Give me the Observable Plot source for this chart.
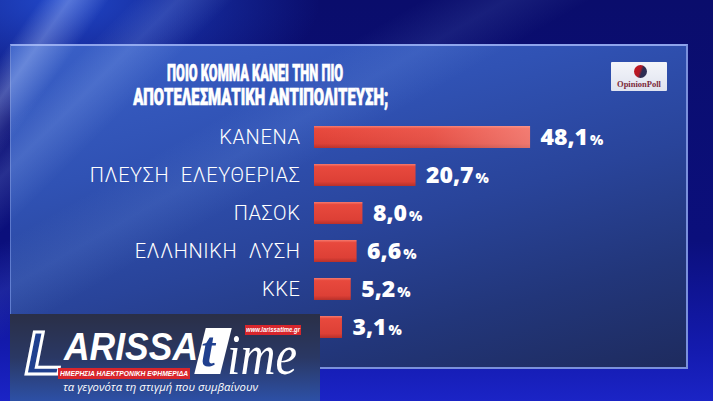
<!DOCTYPE html>
<html><head><meta charset="utf-8">
<script src="https://cdn.jsdelivr.net/npm/d3@7"></script>
<script src="https://cdn.jsdelivr.net/npm/@observablehq/plot@0.6"></script>
<style>
html,body{margin:0;padding:0;background:#0a0d70;}
#stage{position:relative;width:713px;height:401px;overflow:hidden;
  background:
    radial-gradient(ellipse 260px 120px at 60px 0px, rgba(40,90,230,0.75), rgba(40,90,230,0) 100%),
    linear-gradient(180deg,#0a0d6c 0%,#0b0f7c 60%,#141bb0 88%,#1b24c6 100%);}
#panel{position:absolute;left:10px;top:44px;width:675px;height:321px;
  border-top:2px solid #8ea4ec;border-right:2px solid #7a90dc;border-bottom:2px solid #7a90dc;border-left:1px solid #5c78cc;
  background:linear-gradient(165deg,#3a60c8 0%,#3052b4 30%,#29449a 55%,#22367a 78%,#1e2b5e 100%);}
#rays{position:absolute;left:0;top:0;width:713px;height:401px;pointer-events:none;
  background:
   linear-gradient(125deg, rgba(255,255,255,0) 4%, rgba(190,210,255,0.35) 7%, rgba(255,255,255,0) 11%),
   linear-gradient(135deg, rgba(255,255,255,0) 12%, rgba(170,200,255,0.18) 16%, rgba(255,255,255,0) 21%),
   linear-gradient(150deg, rgba(255,255,255,0) 30%, rgba(150,190,255,0.10) 36%, rgba(255,255,255,0) 42%);}
#title{position:absolute;left:55px;top:61px;width:400px;text-align:center;color:#fff;
  font-family:Roboto,"Liberation Sans",sans-serif;font-weight:900;font-size:24px;line-height:24px;-webkit-text-stroke:0.7px #fff;}
#title span{display:inline-block;white-space:nowrap;transform-origin:50% 50%;}
#op{position:absolute;left:611px;top:62px;width:56px;height:29px;background:linear-gradient(180deg,#f4f5fa,#dfe3ef);border-radius:1px;}
#op .dot{position:absolute;left:23px;top:3px;width:13px;height:13px;border-radius:50%;
  background:linear-gradient(110deg,#c8161e 0%,#b01a28 45%,#2c2c52 60%,#303058 100%);}
#op .t{position:absolute;left:0;top:17px;width:56px;text-align:center;font-family:"Liberation Serif",serif;font-weight:bold;font-size:8.5px;color:#7c2a3a;}
#chart{position:absolute;left:0;top:0;}
#logo{position:absolute;left:10px;top:314px;width:310px;height:87px;overflow:hidden;
  background:linear-gradient(180deg,#2a2f47 0%,#2a3864 50%,#2d50a6 100%);}
#logo div{position:absolute;white-space:nowrap;transform-origin:0 50%;}
#L{left:15px;top:8px;font-family:"Liberation Sans",sans-serif;font-weight:bold;font-style:italic;font-size:62px;line-height:62px;color:#20408f;-webkit-text-stroke:3px #fff;}
#arissa{left:54px;top:13px;font-family:"Liberation Sans",sans-serif;font-weight:bold;font-style:italic;font-size:39px;line-height:40px;color:#fff;}
#tbox{left:190px;top:14px;width:26px;height:46px;background:#fff;transform:skewX(-14deg);}
#tch{left:191px;top:10px;font-family:"Liberation Serif",serif;font-style:italic;font-weight:bold;font-size:50px;line-height:50px;color:#20408f;}
#ime{left:217px;top:16px;font-family:"Liberation Serif",serif;font-style:italic;font-size:56px;line-height:50px;color:#fff;}
#url{left:235px;top:11px;width:56px;height:10px;background:#d8262c;}
#urlt{left:236px;top:11px;color:#fff;font-family:"Liberation Sans",sans-serif;font-weight:bold;font-style:italic;font-size:7px;line-height:10px;}
#banner{left:48px;top:54px;width:132px;height:11px;background:#d8262c;}
#bant{left:50px;top:54px;color:#fff;font-family:"Liberation Sans",sans-serif;font-weight:bold;font-style:italic;font-size:7.5px;line-height:11px;}
#tag{left:53px;top:66px;color:#fff;font-family:"Open Sans",sans-serif;font-style:italic;font-size:11.2px;line-height:14px;}
</style></head><body>
<div id="stage">
  <div id="panel"></div>
  <div id="rays"></div>
  <div id="title"><span id="t1">ΠΟΙΟ ΚΟΜΜΑ ΚΑΝΕΙ ΤΗΝ ΠΙΟ</span><br><span id="t2">ΑΠΟΤΕΛΕΣΜΑΤΙΚΗ ΑΝΤΙΠΟΛΙΤΕΥΣΗ;</span></div>
  <div id="op"><div class="dot"></div><div class="t">OpinionPoll</div></div>
  <div id="chart"></div>
  <div id="logo">
    <div id="L">L</div>
    <div id="arissa">ARISSA</div>
    <div id="tbox"></div>
    <div id="tch">t</div>
    <div id="ime">ime</div>
    <div id="url"></div>
    <div id="urlt">www.larissatime.gr</div>
    <div id="banner"></div>
    <div id="bant">ΗΜΕΡΗΣΙΑ ΗΛΕΚΤΡΟΝΙΚΗ ΕΦΗΜΕΡΙΔΑ</div>
    <div id="tag">τα γεγονότα τη στιγμή που συμβαίνουν</div>
  </div>
</div>
<script>
const parties = ["ΚΑΝΕΝΑ", "ΠΛΕΥΣΗ ΕΛΕΥΘΕΡΙΑΣ", "ΠΑΣΟΚ", "ΕΛΛΗΝΙΚΗ ΛΥΣΗ", "ΚΚΕ", "ΝΙΚΗ"];
const values = [48.1, 20.7, 8.0, 6.6, 5.2, 3.1];
const data = parties.map((p, i) => ({party: p, value: values[i]}));
const fmt = v => v.toFixed(1).replace(".", ",");

const plot = Plot.plot({
  width: 713,
  height: 401,
  marginLeft: 314,
  marginRight: 0,
  marginTop: 107.5,
  marginBottom: 45,
  style: {background: "transparent", color: "#fff", overflow: "visible"},
  x: {domain: [0, 100], range: [329, 747], axis: null},
  y: {domain: parties, padding: 0.42, axis: null},
  marks: [
    Plot.axisY({anchor: "left", label: null, tickSize: 0, tickPadding: 14, fontSize: 20, fontWeight: 300, fontFamily: "Roboto, 'Liberation Sans', sans-serif", fill: "#fff", className: "cats"}),
    Plot.barX(data, {x: "value", y: "party", insetLeft: -15, fill: "url(#barGradV)"}),
    Plot.barX(data, {filter: (d, i) => i === 0, x: "value", y: "party", insetLeft: -15, fill: "url(#barGradH)"}),
    Plot.text(data, {x: "value", y: "party", text: d => fmt(d.value), dx: 10, textAnchor: "start",
      fontSize: 23, fontWeight: 800, fontFamily: "'Open Sans', 'DejaVu Sans', sans-serif", fill: "#fff", className: "vals"})
  ]
});
document.getElementById("chart").appendChild(plot);

const svg = d3.select(plot);
const defs = svg.insert("defs", ":first-child");
const gv = defs.append("linearGradient").attr("id", "barGradV").attr("x1", 0).attr("y1", 0).attr("x2", 0).attr("y2", 1);
gv.append("stop").attr("offset", "0%").attr("stop-color", "#f57a6e");
gv.append("stop").attr("offset", "12%").attr("stop-color", "#e8493d");
gv.append("stop").attr("offset", "80%").attr("stop-color", "#dd4036");
gv.append("stop").attr("offset", "100%").attr("stop-color", "#b8302a");
const gh = defs.append("linearGradient").attr("id", "barGradH").attr("x1", 0).attr("y1", 0).attr("x2", 1).attr("y2", 0);
gh.append("stop").attr("offset", "0%").attr("stop-color", "#ffb0a8").attr("stop-opacity", 0);
gh.append("stop").attr("offset", "55%").attr("stop-color", "#ffb0a8").attr("stop-opacity", 0.15);
gh.append("stop").attr("offset", "100%").attr("stop-color", "#ffb0a8").attr("stop-opacity", 0.5);

svg.selectAll(".cats text").style("word-spacing", "6px").style("letter-spacing", "0.6px");
svg.selectAll(".vals text").each(function() {
  const t = this.textContent;
  const s = d3.select(this);
  s.text(t);
  s.append("tspan").attr("font-size", 14).attr("dx", 2).text("%");
});

// squeeze condensed-looking texts to the widths seen in the picture
function fit(id, w) {
  const el = document.getElementById(id);
  const cur = el.getBoundingClientRect().width;
  if (cur > 0) el.style.transform = (el.style.transform || "") + ` scaleX(${w / cur})`;
}
fit("t1", 176);
fit("t2", 255);
fit("arissa", 134);
fit("ime", 70);
fit("urlt", 54);
fit("bant", 128);
fit("tag", 195);
</script>
</body></html>
